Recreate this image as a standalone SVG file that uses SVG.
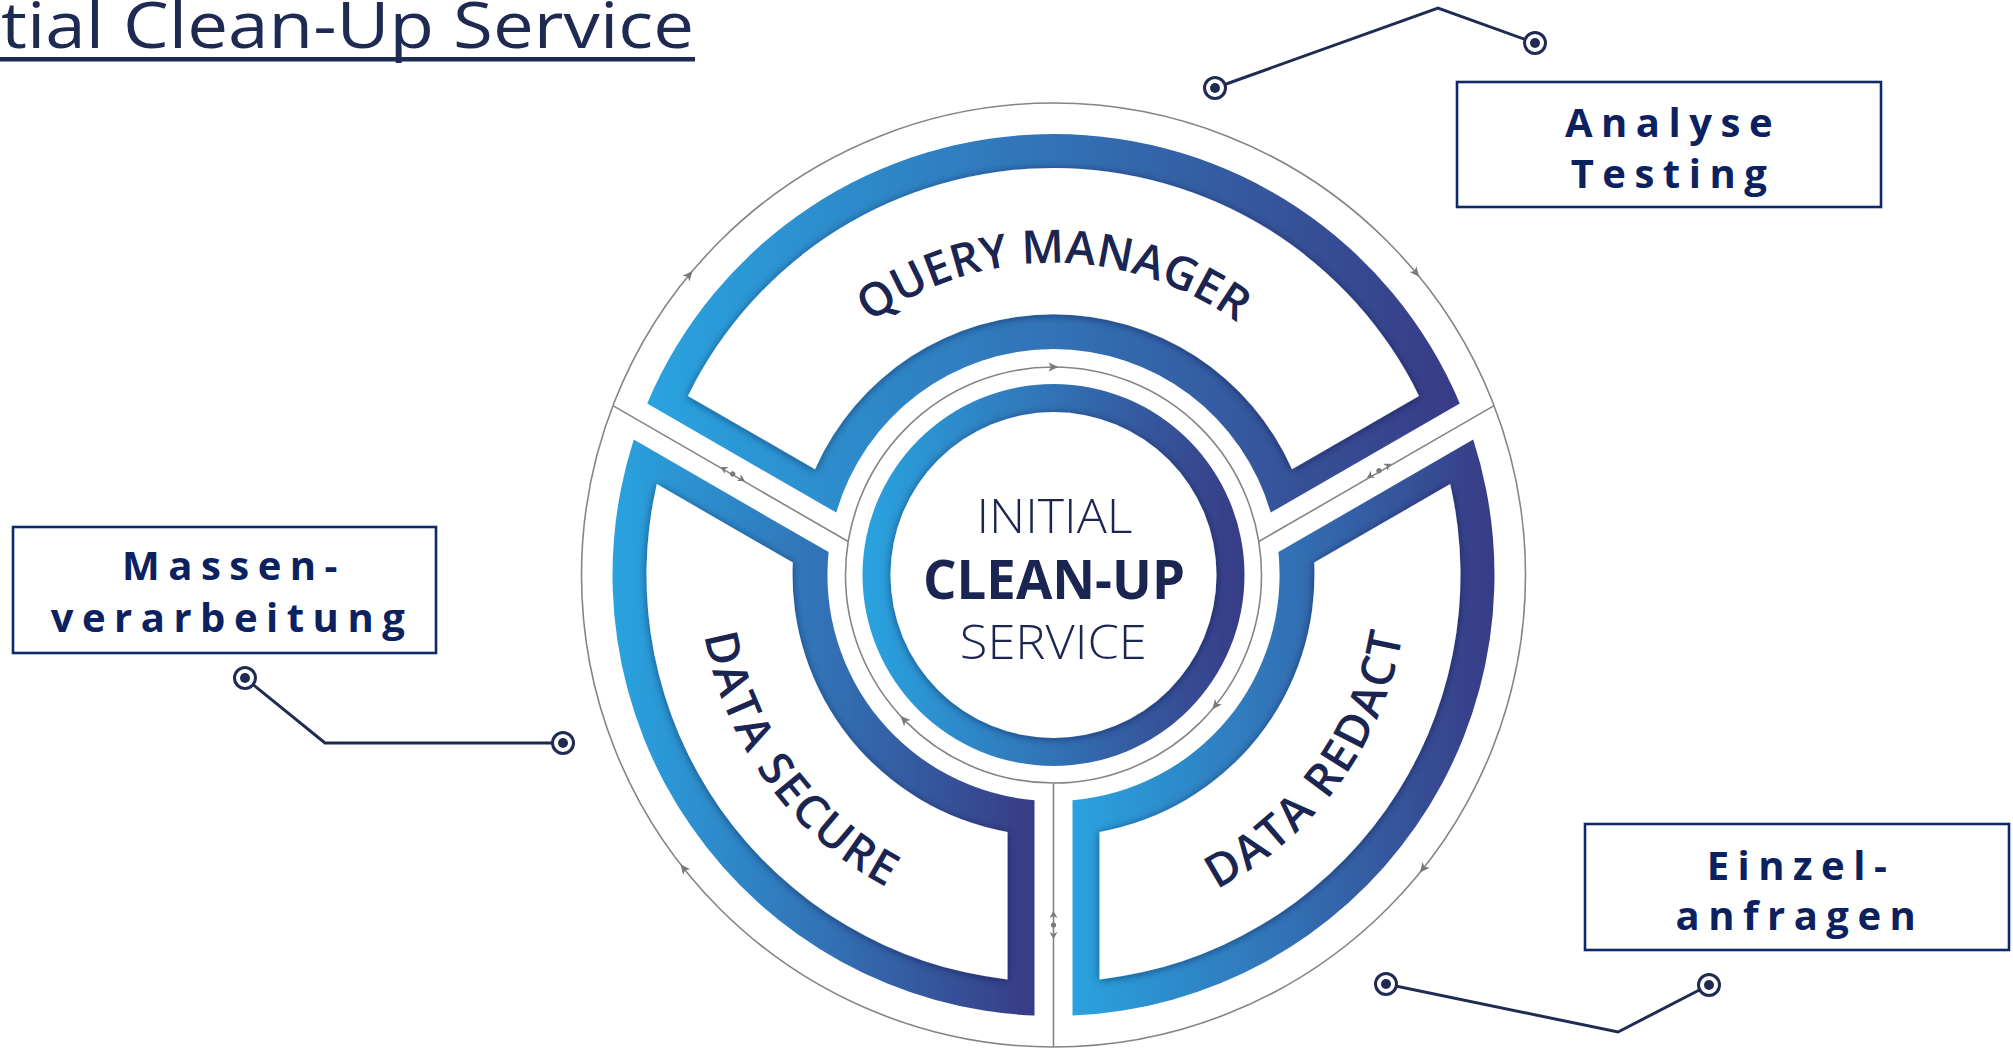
<svg xmlns="http://www.w3.org/2000/svg" xmlns:xlink="http://www.w3.org/1999/xlink" width="2013" height="1051" viewBox="0 0 2013 1051">
  <style>
    .thin { fill: none; stroke: #858585; stroke-width: 1.6; }
    .arw { fill: #7a7a7a; }
    .seglbl { font-family: "Open Sans", "Liberation Sans", sans-serif; font-weight: 600; font-size: 46px; fill: #1b2552; }
    .boxr { fill: #ffffff; stroke: #0e2a6b; stroke-width: 2.6; }
    .boxt { font-family: "Open Sans", "Liberation Sans", sans-serif; font-weight: 700; font-size: 40px; fill: #0c2160; letter-spacing: 8.5px; text-anchor: middle; }
    .call { fill: none; stroke: #1f2b52; stroke-width: 3; }
    .ring { fill: #ffffff; stroke: #1f2b52; stroke-width: 3; }
    .dot { fill: #1f2b52; }
    .core { font-family: "Open Sans", "Liberation Sans", sans-serif; fill: #1b2552; text-anchor: middle; }
  </style>
  <defs>
    <linearGradient id="gBand" x1="0" y1="0" x2="1" y2="0">
      <stop offset="0" stop-color="#29a3df"/>
      <stop offset="0.5" stop-color="#3272b6"/>
      <stop offset="1" stop-color="#383b85"/>
    </linearGradient>
    <filter id="sh" x="-15%" y="-15%" width="130%" height="130%">
      <feDropShadow dx="0" dy="1" stdDeviation="4" flood-color="#0b1033" flood-opacity="0.5"/>
    </filter>
    <path id="arw" d="M5 0 L-5 -4.5 L-2.5 0 L-5 4.5 Z"/>
    <g id="rmark">
      <circle cx="0" cy="0" r="2.6" fill="#7a7a7a"/>
      <path d="M-14 0 L-7 -4 L-9 0 L-7 4 Z" fill="#7a7a7a"/>
      <path d="M14 0 L7 -4 L9 0 L7 4 Z" fill="#7a7a7a"/>
    </g>
    <path id="tpQM" d="M741.5 575 A312 312 0 0 1 1365.5 575"/>
    <path id="tpDS" d="M821.2 307.8 A354 354 0 0 0 1235.8 878.4"/>
    <path id="tpDR" d="M871.2 878.4 A354 354 0 0 0 1285.8 307.8"/>
  </defs>

  <rect x="0" y="0" width="2013" height="1051" fill="#ffffff"/>

  <g id="title">
    <text x="1" y="48" font-family="'Open Sans', 'Liberation Sans', sans-serif" font-size="64" fill="#1f2a52" textLength="693" lengthAdjust="spacingAndGlyphs">tial Clean-Up Service</text>
    <rect x="0" y="57" width="695" height="4.5" fill="#1f2a52"/>
  </g>

  <g id="connectors">
    <circle class="thin" cx="1053.5" cy="575" r="472"/>
    <circle class="thin" cx="1053.5" cy="575" r="208"/>
    <line class="thin" x1="612.9" y1="405.6" x2="848.2" y2="541.5"/>
    <line class="thin" x1="1494.1" y1="405.6" x2="1258.8" y2="541.5"/>
    <line class="thin" x1="1053.5" y1="783" x2="1053.5" y2="1047"/>
    <use href="#arw" class="arw" transform="translate(689.3 274.8) rotate(309.5)"/>
    <use href="#arw" class="arw" transform="translate(1416.1 272.9) rotate(50.2)"/>
    <use href="#arw" class="arw" transform="translate(683.6 868.2) rotate(231.6)"/>
    <use href="#arw" class="arw" transform="translate(1422.9 868.8) rotate(128.5)"/>
    <use href="#arw" class="arw" transform="translate(1053.5 367) rotate(0)"/>
    <use href="#arw" class="arw" transform="translate(1215.4 705.6) rotate(128.9)"/>
    <use href="#arw" class="arw" transform="translate(903.9 719.5) rotate(226)"/>
    <use href="#rmark" transform="translate(732.7 474) rotate(30)"/>
    <use href="#rmark" transform="translate(1379 470.7) rotate(-30)"/>
    <use href="#rmark" transform="translate(1053.5 925) rotate(90)"/>

    <polyline class="call" points="1215,88 1438,8 1535,43"/>
    <circle class="ring" cx="1215" cy="88" r="10.5"/><circle class="dot" cx="1215" cy="88" r="5"/>
    <circle class="ring" cx="1535" cy="43" r="10.5"/><circle class="dot" cx="1535" cy="43" r="5"/>

    <polyline class="call" points="245,678 325,743 563,743"/>
    <circle class="ring" cx="245" cy="678" r="10.5"/><circle class="dot" cx="245" cy="678" r="5"/>
    <circle class="ring" cx="563" cy="743" r="10.5"/><circle class="dot" cx="563" cy="743" r="5"/>

    <polyline class="call" points="1386,984 1618,1032 1709,985"/>
    <circle class="ring" cx="1386" cy="984" r="10.5"/><circle class="dot" cx="1386" cy="984" r="5"/>
    <circle class="ring" cx="1709" cy="985" r="10.5"/><circle class="dot" cx="1709" cy="985" r="5"/>
  </g>

  <g id="seg-query-manager">
    <path fill="url(#gBand)" d="M647.2 403.5 A441 441 0 0 1 1459.8 403.5 L1270.7 512.6 A226 226 0 0 0 836.3 512.6 Z"/>
    <path fill="#ffffff" filter="url(#sh)" d="M688 395.9 A407 407 0 0 1 1419 395.9 L1292 469.2 A261 261 0 0 0 815 469.2 Z"/>
    <text class="seglbl"><textPath href="#tpQM" startOffset="50%" text-anchor="middle">QUERY MANAGER</textPath></text>
  </g>

  <g id="seg-data-secure">
    <path fill="url(#gBand)" d="M633.8 439.6 L828.6 552.1 A226 226 0 0 0 1034.5 800.2 L1034.5 1015.6 A441 441 0 0 1 633.8 439.6 Z"/>
    <path fill="#ffffff" filter="url(#sh)" d="M656.8 484.1 L792.8 562.6 A261 261 0 0 0 1007.5 831.9 L1007.5 979.4 A407 407 0 0 1 656.8 484.1 Z"/>
    <text class="seglbl" letter-spacing="2"><textPath href="#tpDS" startOffset="50%" text-anchor="middle">DATA SECURE</textPath></text>
  </g>

  <g id="seg-data-redact">
    <path fill="url(#gBand)" d="M1473.2 439.6 A441 441 0 0 1 1072.5 1015.6 L1072.5 800.2 A226 226 0 0 0 1278.4 552.1 Z"/>
    <path fill="#ffffff" filter="url(#sh)" d="M1450.2 484.1 A407 407 0 0 1 1099.5 979.4 L1099.5 831.9 A261 261 0 0 0 1314.2 562.6 Z"/>
    <text class="seglbl" letter-spacing="2"><textPath href="#tpDR" startOffset="50%" text-anchor="middle">DATA REDACT</textPath></text>
  </g>

  <g id="core">
    <circle cx="1053.5" cy="575" r="191" fill="url(#gBand)"/>
    <circle cx="1053.5" cy="575" r="163" fill="#ffffff" filter="url(#sh)"/>
    <text class="core" x="1054.5" y="532.7" font-size="48" font-weight="300" textLength="156" lengthAdjust="spacingAndGlyphs">INITIAL</text>
    <text class="core" x="1054" y="599.3" font-size="53" font-weight="700" textLength="262" lengthAdjust="spacingAndGlyphs">CLEAN-UP</text>
    <text class="core" x="1053.3" y="659.3" font-size="48" font-weight="300" textLength="187" lengthAdjust="spacingAndGlyphs">SERVICE</text>
  </g>

  <g id="box-analyse-testing">
    <rect class="boxr" x="1457" y="82" width="424" height="125"/>
    <text class="boxt" x="1673" y="137">Analyse</text>
    <text class="boxt" x="1673" y="188">Testing</text>
  </g>

  <g id="box-massenverarbeitung">
    <rect class="boxr" x="13" y="527" width="423" height="126"/>
    <text class="boxt" x="234" y="580">Massen-</text>
    <text class="boxt" x="232" y="632">verarbeitung</text>
  </g>

  <g id="box-einzelanfragen">
    <rect class="boxr" x="1585" y="824" width="424" height="126"/>
    <text class="boxt" x="1801" y="880">Einzel-</text>
    <text class="boxt" x="1800" y="930">anfragen</text>
  </g>
</svg>
